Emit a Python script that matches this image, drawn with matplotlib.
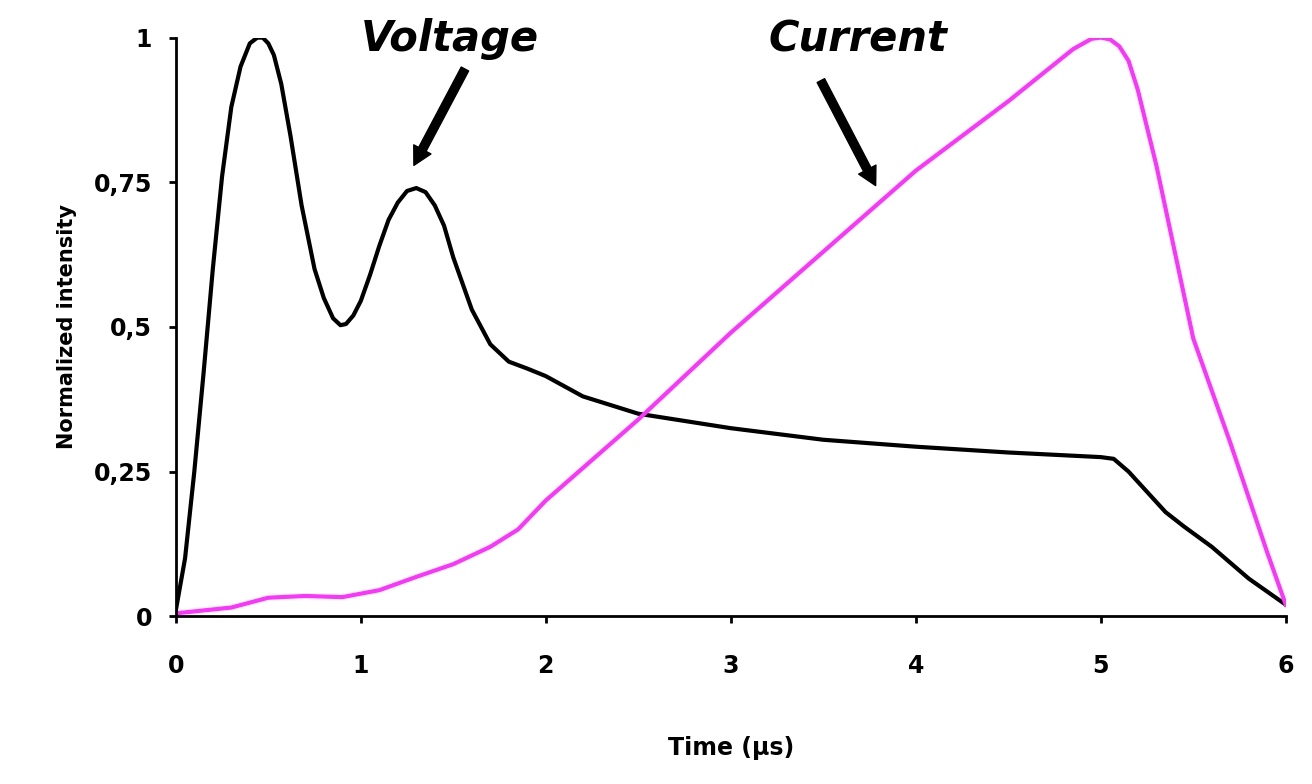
import matplotlib.pyplot as plt

# voltage curve (time in us, normalized)
v_t = [0, 0.05, 0.1, 0.15, 0.2, 0.25, 0.3, 0.35, 0.4, 0.44, 0.47, 0.5, 0.53, 0.57, 0.62, 0.68,
       0.75, 0.8, 0.85, 0.89, 0.92, 0.96, 1.0, 1.05, 1.1, 1.15, 1.2, 1.25, 1.3, 1.35, 1.4, 1.45,
       1.5, 1.6, 1.7, 1.8, 1.9, 2.0, 2.2, 2.5, 3.0, 3.5, 4.0, 4.5, 5.0, 5.07, 5.15, 5.25, 5.35,
       5.45, 5.6, 5.8, 6.0]
v_y = [0.01, 0.1, 0.25, 0.42, 0.6, 0.76, 0.88, 0.95, 0.99, 1.0, 1.0, 0.99, 0.97, 0.92, 0.83,
       0.71, 0.6, 0.55, 0.515, 0.503, 0.505, 0.52, 0.545, 0.59, 0.64, 0.685, 0.715, 0.735, 0.74,
       0.733, 0.71, 0.675, 0.62, 0.53, 0.47, 0.44, 0.428, 0.415, 0.38, 0.35, 0.325, 0.305, 0.293,
       0.283, 0.275, 0.272, 0.25, 0.215, 0.18, 0.155, 0.12, 0.065, 0.02]

# current curve
c_t = [0, 0.3, 0.5, 0.7, 0.9, 1.1, 1.3, 1.5, 1.7, 1.85, 2.0, 2.5, 3.0, 3.5, 4.0, 4.5, 4.85,
       4.95, 5.0, 5.05, 5.1, 5.15, 5.2, 5.3, 5.4, 5.5, 5.7, 5.9, 6.0]
c_y = [0.005, 0.015, 0.032, 0.035, 0.033, 0.045, 0.068, 0.09, 0.12, 0.15, 0.2, 0.34, 0.49,
       0.63, 0.77, 0.89, 0.98, 0.998, 1.0, 0.997, 0.985, 0.96, 0.91, 0.78, 0.63, 0.48, 0.3,
       0.11, 0.02]

x_ticks = [0, 1, 2, 3, 4, 5, 6]
y_ticks = [0, 0.25, 0.5, 0.75, 1]
y_labels = ['0', '0,25', '0,5', '0,75', '1']

fig = plt.figure(figsize=(13.12, 7.84), dpi=100)
ax = fig.add_axes([0.134, 0.214, 0.846, 0.738])

ax.plot(v_t, v_y, color='black', lw=3, solid_joinstyle='round')
ax.plot(c_t, c_y, color='#ff33ff', lw=3, solid_joinstyle='round')

ax.set_xlim(0, 6)
ax.set_ylim(0, 1)
ax.set_xticks(x_ticks)
ax.set_xticklabels([str(t) for t in x_ticks], fontsize=17, fontweight='bold')
ax.set_yticks(y_ticks)
ax.set_yticklabels(y_labels, fontsize=17, fontweight='bold')
ax.tick_params(direction='out', length=5, width=2)
ax.tick_params(axis='x', pad=22)
ax.tick_params(axis='y', pad=12)
for s in ['top', 'right']:
    ax.spines[s].set_visible(False)
for s in ['left', 'bottom']:
    ax.spines[s].set_linewidth(2)

ax.set_xlabel('Time (µs)', fontsize=17, fontweight='bold', labelpad=42)
ax.set_ylabel('Normalized intensity', fontsize=15, fontweight='bold', labelpad=12)

arrow = dict(arrowstyle='simple,head_width=1.4,head_length=1.3,tail_width=0.6', color='black')
ax.annotate('', xy=(1.28, 0.775), xytext=(1.57, 0.95), arrowprops=arrow, annotation_clip=False)
ax.text(1.48, 0.997, 'Voltage', fontsize=30, fontweight='bold', style='italic',
        ha='center', va='center')
ax.annotate('', xy=(3.79, 0.74), xytext=(3.48, 0.93), arrowprops=arrow, annotation_clip=False)
ax.text(3.69, 0.997, 'Current', fontsize=30, fontweight='bold', style='italic',
        ha='center', va='center')

fig.savefig('out.png', dpi=100)
